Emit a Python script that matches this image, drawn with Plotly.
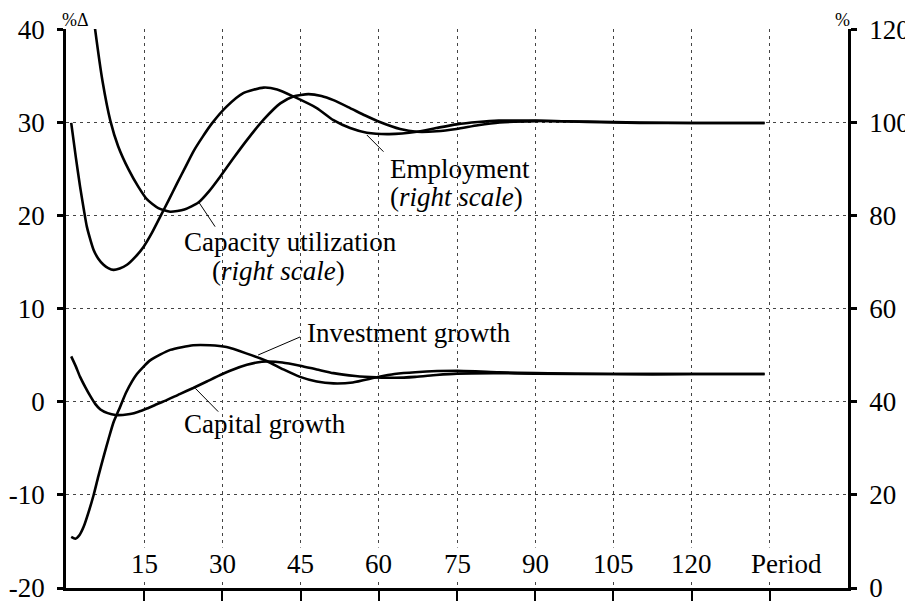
import plotly.graph_objects as go

# Employment (right scale, %)
emp_x = [1, 1.9, 2.7, 3.4, 4, 4.7, 5.3, 6.2, 7.2, 8.1, 9.1, 10.3, 11.7, 13.3, 14.9, 16.5, 18.1, 19.7,
         21.3, 22.9, 24.4, 26.2, 28, 30.8, 34, 37.9, 40.5, 43.6, 48.1, 51.3, 54.5, 57.7,
         62, 67.3, 71, 74.9, 79, 83, 90, 100, 110, 120, 134]
emp_y = [100, 92.5, 86.3, 81.5, 77.7, 74.8, 72.7, 70.8, 69.5, 68.8, 68.4, 68.7, 69.5, 71.2, 73.4, 76.4, 79.9, 83.4,
         87.0, 90.5, 93.8, 97.0, 99.9, 103.5, 106.4, 107.6, 107.2, 105.7, 103.2, 100.6, 98.9, 97.9,
         97.6, 98.1, 98.9, 99.7, 100.2, 100.5, 100.5, 100.2, 100.0, 100.0, 100.0]

# Capacity utilization (right scale, %)
cap_x = [1, 3, 4.4, 5.6, 7, 8.5, 10, 12, 13.8, 15.5, 17.7, 20, 22.7, 25.4, 27.5, 29.6, 32.1, 34.7,
         37.9, 41.1, 43.6, 46.5, 49, 51.3, 54.5, 57.4, 60.2, 64.1, 67.3, 71.1, 74.9, 79, 83.2,
         90.2, 100, 110, 120, 134]
cap_y = [163, 143, 131, 120, 109, 100.5, 95, 90, 86.4, 83.6, 81.7, 80.9, 81.4, 82.9, 85.4, 88.5, 92.4, 96.3,
         100.7, 104.2, 105.7, 106.2, 105.8, 104.9, 103.2, 101.6, 100.2, 98.7, 98.1, 98.2, 98.7, 99.5, 100.1,
         100.4, 100.3, 100.1, 100.0, 100.0]

# Capital growth (left scale, %change)
capg_x = [1, 1.9, 2.7, 3.7, 4.7, 5.6, 6.6, 8, 9.5, 10.9, 12.3, 13.9, 15.5, 17.4, 19.3, 21.8, 24.4,
          27, 29.6, 32.1, 34.7, 36.6, 38.5, 41.5, 44.9, 48.1, 51.3, 55.5, 59.6, 63, 67, 71, 75,
          82, 90, 105, 120, 134]
capg_y = [4.9, 3.8, 2.7, 1.6, 0.6, -0.2, -0.8, -1.2, -1.4, -1.4, -1.3, -1.05, -0.7, -0.25, 0.2, 0.85, 1.5,
          2.2, 2.9, 3.5, 4.0, 4.25, 4.35, 4.25, 3.9, 3.5, 3.1, 2.8, 2.65, 2.6, 2.7, 2.9, 3.05,
          3.1, 3.05, 3.0, 3.0, 3.0]

# Investment growth (left scale, %change)
inv_x = [1, 1.8, 2.6, 3.4, 4.3, 5.3, 6.2, 7.2, 8.2, 9.1, 10.1, 11.6, 13.6, 16.2, 20, 24.4, 27.6,
         30.8, 34.7, 38.5, 41.7, 44.9, 48.1, 51.3, 55, 59.6, 63, 67, 75, 83, 90, 105, 120, 134]
inv_y = [-14.5, -14.7, -14.3, -13.4, -11.9, -10.0, -8.0, -5.9, -3.9, -2.2, -0.9, 1.1, 3.0, 4.5, 5.6, 6.1, 6.1,
         5.9, 5.2, 4.4, 3.5, 2.7, 2.2, 2.0, 2.1, 2.65, 3.0, 3.2, 3.35, 3.2, 3.1, 3.0, 3.0, 3.0]

x_ticks = [15, 30, 45, 60, 75, 90, 105, 120, 135]
x_labels = ["15", "30", "45", "60", "75", "90", "105", "120", "Period"]
left_ticks = [-20, -10, 0, 10, 20, 30, 40]
left_labels = ["-20", "-10", "0", "10", "20", "30", "40"]
right_ticks = [0, 20, 40, 60, 80, 100, 120]
right_labels = ["0", "20", "40", "60", "80", "100", "120"]

FONT = "Liberation Serif, Times New Roman, serif"
line = dict(color="black", width=2.6, shape="spline", smoothing=0.6)

fig = go.Figure()
fig.add_trace(go.Scatter(x=emp_x, y=emp_y, mode="lines", line=line, yaxis="y2", name="Employment"))
fig.add_trace(go.Scatter(x=cap_x, y=cap_y, mode="lines", line=line, yaxis="y2", name="Capacity utilization"))
fig.add_trace(go.Scatter(x=capg_x, y=capg_y, mode="lines", line=line, name="Capital growth"))
fig.add_trace(go.Scatter(x=inv_x, y=inv_y, mode="lines", line=line, name="Investment growth"))

grid = dict(showgrid=True, gridcolor="#444", gridwidth=1, griddash="3px,4px")

annotations = []
# x tick labels sit inside the plot, on white so the grid stops around them
for xv, lab in zip(x_ticks, x_labels):
    annotations.append(dict(x=xv + (3.2 if lab == "Period" else 0), y=-17.4, xref="x", yref="y",
                            text=lab, showarrow=False, bgcolor="white", borderpad=1,
                            font=dict(size=27)))

labels = [
    ("Capacity utilization", 22.2, 17.2),
    ("(<i>right scale</i>)", 27.6, 14.1),
    ("Employment", 61.8, 25.05),
    ("(<i>right scale</i>)", 61.8, 22.0),
    ("Investment growth", 45.8, 7.42),
    ("Capital growth", 22.2, -2.37),
]
for txt, xv, yv in labels:
    annotations.append(dict(x=xv, y=yv, xref="x", yref="y", text=txt, showarrow=False,
                            xanchor="left", yanchor="middle", font=dict(size=27)))

annotations.append(dict(x=-0.008, y=1.037, xref="paper", yref="paper", text="%\u0394",
                        showarrow=False, font=dict(size=18)))
annotations.append(dict(x=1.005, y=1.037, xref="paper", yref="paper", text="%",
                        showarrow=False, font=dict(size=18)))

# leader lines from labels to curves
leaders = [
    (25.4, 21.54, 28.6, 18.85),
    (57.7, 28.71, 60.9, 26.91),
    (36.85, 5.05, 44.9, 6.99),
    (24.8, 1.47, 29.2, -1.04),
]
shapes = [dict(type="line", xref="x", yref="y", x0=a, y0=b, x1=c, y1=d,
               line=dict(color="black", width=1)) for a, b, c, d in leaders]

# page body adds an 8px margin, so the figure is 8px smaller than the window
fig.update_layout(
    width=905, height=595,
    margin=dict(l=58, r=65, t=21, b=15),
    paper_bgcolor="white", plot_bgcolor="white",
    font=dict(family=FONT, color="black", size=27),
    showlegend=False,
    xaxis=dict(range=[0, 150], tickvals=x_ticks, showticklabels=False, automargin=False,
               ticks="outside", ticklen=10, tickwidth=2, tickcolor="black",
               showline=True, linecolor="black", linewidth=2.6, zeroline=False, **grid),
    yaxis=dict(range=[-20, 40.1], tickvals=left_ticks, ticktext=left_labels, automargin=False,
               ticks="outside", ticklen=6, tickwidth=2.5, tickcolor="black",
               ticklabelstandoff=7, ticklabeloverflow="allow",
               showline=True, linecolor="black", linewidth=2.6, zeroline=False, **grid),
    yaxis2=dict(range=[0, 120.2], tickvals=right_ticks, ticktext=right_labels, automargin=False,
                overlaying="y", side="right", showgrid=False,
                ticks="outside", ticklen=6, tickwidth=2.5, tickcolor="black",
                ticklabelstandoff=7, ticklabeloverflow="allow",
                showline=True, linecolor="black", linewidth=2.6, zeroline=False),
    annotations=annotations,
    shapes=shapes,
)

fig.write_html("out.html")
